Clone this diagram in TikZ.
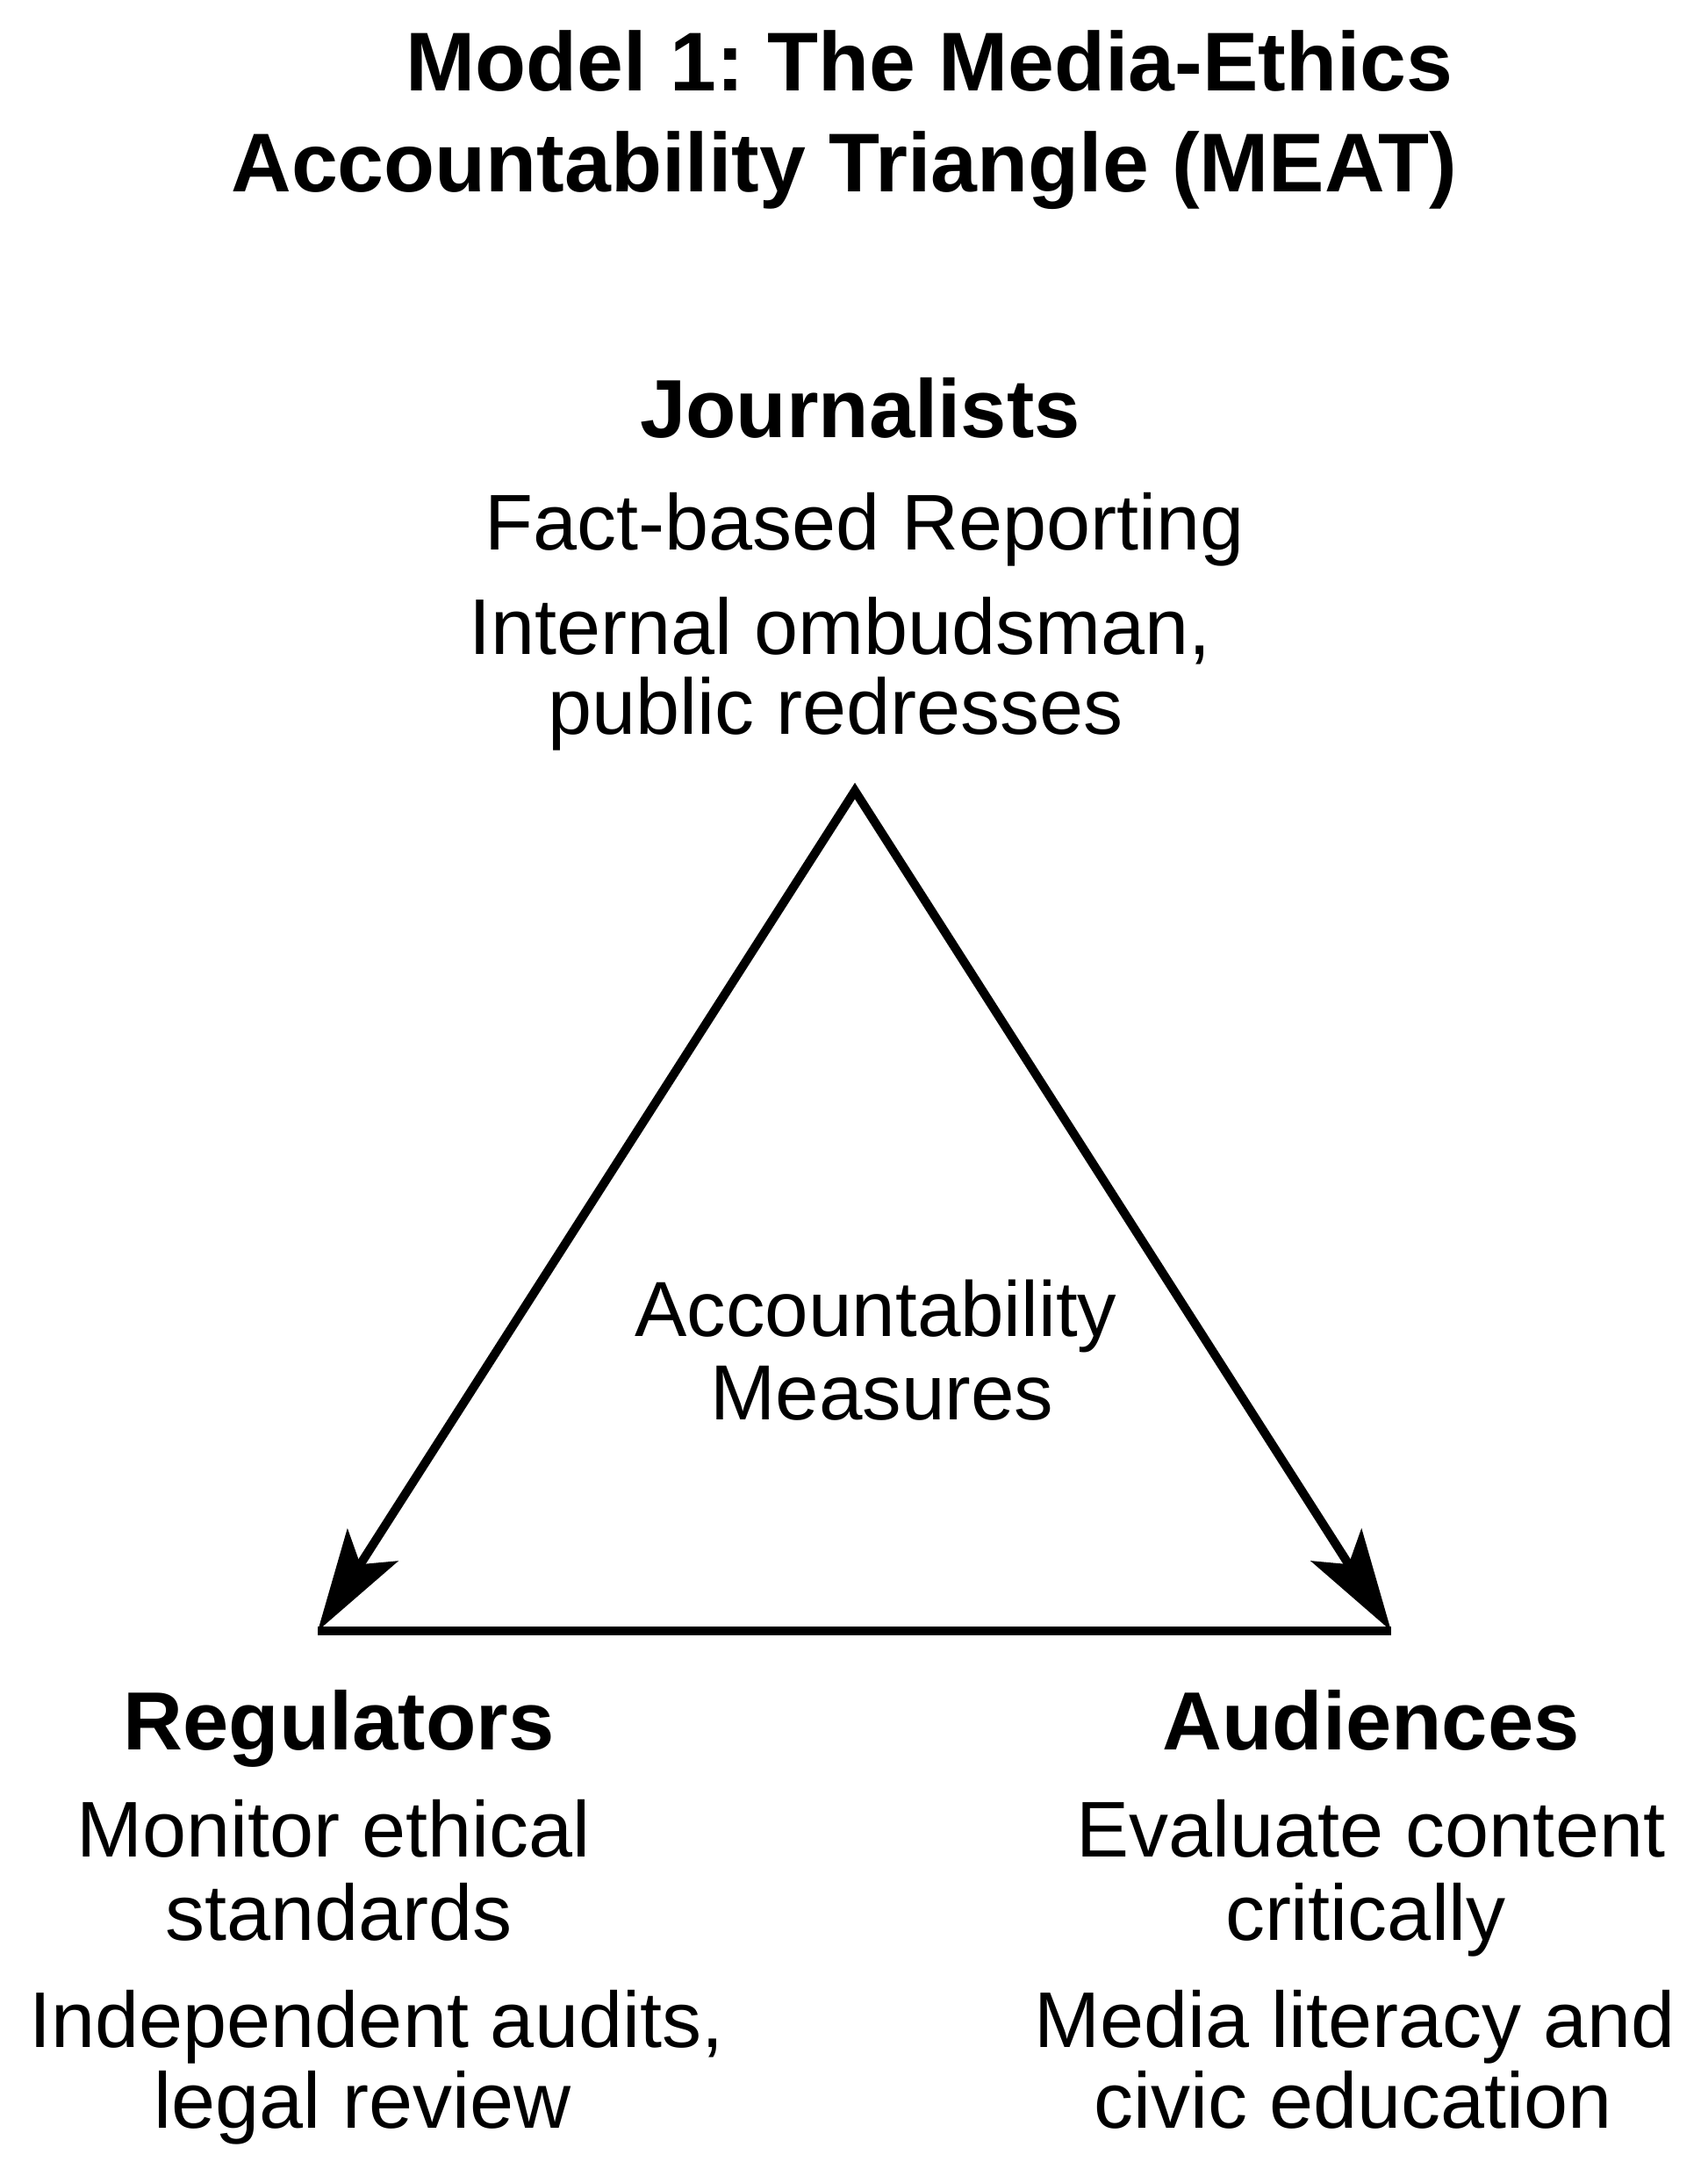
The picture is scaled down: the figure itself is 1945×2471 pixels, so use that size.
\documentclass[tikz,border=0pt]{standalone}
\usepackage{fontspec}
\setmainfont{Liberation Sans}
\usetikzlibrary{arrows.meta}
\frenchspacing
\tikzset{
  titletext/.style={font=\fontsize{47.5}{52}\selectfont\bfseries, anchor=base, inner sep=0pt},
  headtext/.style={font=\fontsize{47}{52}\selectfont\bfseries, anchor=base, inner sep=0pt},
  bodytext/.style={font=\fontsize{45}{48}\selectfont, anchor=base, inner sep=0pt},
  centertext/.style={font=\fontsize{44.5}{48}\selectfont, anchor=base, inner sep=0pt},
  side/.style={line width=5pt, line join=miter, draw=black},
  tip/.style={-{Stealth[length=50pt,width=32pt,inset=9pt]}}
}
\begin{document}
\begin{tikzpicture}[x=0.5pt,y=-0.5pt]
\useasboundingbox[fill=white] (0,0) rectangle (1945,2471);
% title
\node[titletext] (t1) at (1059,104) {Model 1: The Media-Ethics};
\node[titletext] (t2) at (962,219) {Accountability Triangle (MEAT)};
% journalists
\node[headtext] (jh) at (980,498) {Journalists};
\node[bodytext] (j1) at (985,626) {Fact-based Reporting};
\node[bodytext] (j2) at (957,745) {Internal ombudsman,};
\node[bodytext] (j3) at (952,836) {public redresses};
% center
\node[centertext] (c1) at (998,1522) {Accountability};
\node[centertext] (c2) at (1005,1617) {Measures};
% regulators
\node[headtext] (rh) at (386,1993) {Regulators};
\node[bodytext] (r1) at (380,2115) {Monitor ethical};
\node[bodytext] (r2) at (386,2210) {standards};
\node[bodytext] (r3) at (429,2332) {Independent audits,};
\node[bodytext] (r4) at (413,2424) {legal review};
% audiences
\node[headtext] (ah) at (1562,1993) {Audiences};
\node[bodytext] (a1) at (1562,2115) {Evaluate content};
\node[bodytext] (a2) at (1556,2210) {critically};
\node[bodytext] (a3) at (1544,2332) {Media literacy and};
\node[bodytext] (a4) at (1542,2424) {civic education};
% triangle
\coordinate (J) at (974,901);
\coordinate (R) at (362,1858);
\coordinate (A) at (1585,1858);
\draw[side] (R) -- (A);
\draw[side, {Stealth[length=58pt,width=34pt,inset=13pt]}-{Stealth[length=58pt,width=34pt,inset=13pt]}] (R) -- (J) -- (A);
\end{tikzpicture}
\end{document}
